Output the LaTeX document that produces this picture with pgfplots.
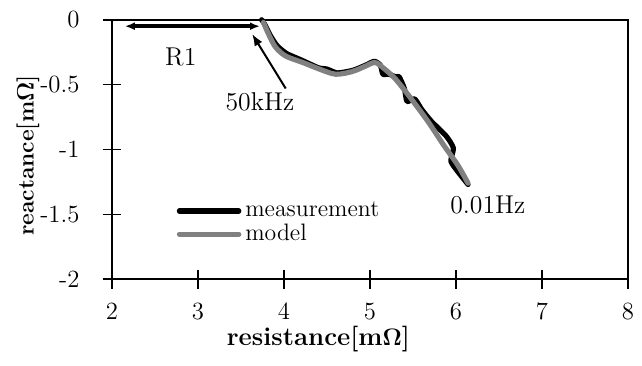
\documentclass[border=0pt]{standalone}
\usepackage{pgfplots}
\pgfplotsset{compat=1.18}
\usetikzlibrary{arrows.meta}
\begin{document}
\fontsize{12}{14}\selectfont
\begin{tikzpicture}
\begin{axis}[
  scale only axis,
  width=260.5pt, height=131pt,
  xmin=2, xmax=8, ymin=-2, ymax=0,
  xtick={2,3,4,5,6,7,8},
  ytick={-2,-1.5,-1,-0.5,0},
  xticklabels={2,3,4,5,6,7,8},
  yticklabels={-2,-1.5,-1,-0.5,0},
  xtick pos=bottom, ytick pos=left,
  tick align=center,
  major tick length=9.5pt,
  axis line style={line width=1pt},
  every tick/.style={line width=0.8pt, black},
  ticklabel style={font=\fontsize{12.5}{15}\selectfont},
  yticklabel style={xshift=-7.5pt},
  xticklabel style={yshift=-3pt},
  xlabel={\textbf{resistance[m$\mathbf{\Omega}$]}},
  ylabel={\textbf{reactance[m$\mathbf{\Omega}$]}},
  xlabel style={font=\fontsize{13}{15}\selectfont, at={(axis description cs:0.4,-0.232)}, anchor=center},
  ylabel style={font=\fontsize{11.5}{14}\selectfont, at={(axis description cs:-0.163,0.477)}, anchor=center},
  clip=false,
  legend style={at={(axis cs:2.68,-1.34)}, anchor=north west, draw=none, fill=none,
    font=\fontsize{12}{14}\selectfont, row sep=-2pt},
  legend cell align=left,
  legend image code/.code={\draw[#1] (0pt,0pt) -- (30pt,0pt);},
]
\addplot[black, line width=2.6pt, line join=round, line cap=round, smooth, tension=0.35] coordinates {
(3.74,0.0) (3.78,-0.04) (3.84,-0.12) (3.92,-0.20) (4.03,-0.26) (4.20,-0.31)
(4.40,-0.37) (4.50,-0.38) (4.62,-0.41) (4.80,-0.39) (4.95,-0.35) (5.05,-0.32)
(5.12,-0.35) (5.15,-0.42) (5.22,-0.42) (5.30,-0.44) (5.34,-0.44) (5.40,-0.53)
(5.43,-0.63) (5.52,-0.61) (5.60,-0.69) (5.71,-0.78) (5.89,-0.90) (5.97,-0.99)
(5.94,-1.09) (6.02,-1.17) (6.14,-1.27)
};
\addlegendentry{measurement}
\addplot[gray, line width=2.6pt, smooth, line cap=round] coordinates {
(3.76,-0.02) (3.82,-0.11) (3.90,-0.21) (4.02,-0.28) (4.22,-0.33) (4.41,-0.38)
(4.60,-0.42) (4.79,-0.40) (4.94,-0.36) (5.06,-0.33) (5.17,-0.38) (5.30,-0.46)
(5.48,-0.61) (5.68,-0.79) (5.86,-0.97) (6.02,-1.12) (6.14,-1.26)
};
\addlegendentry{model}
\draw[{Latex[length=5pt,width=4pt]}-{Latex[length=5pt,width=4pt]}, line width=1.8pt] (axis cs:2.15,-0.05) -- (axis cs:3.72,-0.05);
\draw[-{Latex[length=6pt,width=4.5pt]}, line width=1pt] (axis cs:4.02,-0.53) -- (axis cs:3.63,-0.11);
\node[font=\fontsize{13}{15}\selectfont] at (axis cs:2.80,-0.29) {R1};
\node[font=\fontsize{13}{15}\selectfont] at (axis cs:3.72,-0.63) {50kHz};
\node[font=\fontsize{13}{15}\selectfont] at (axis cs:6.37,-1.43) {0.01Hz};
\path (axis description cs:-0.217,-0.332) (axis description cs:1.0154,1.076);
\end{axis}
\end{tikzpicture}
\end{document}
